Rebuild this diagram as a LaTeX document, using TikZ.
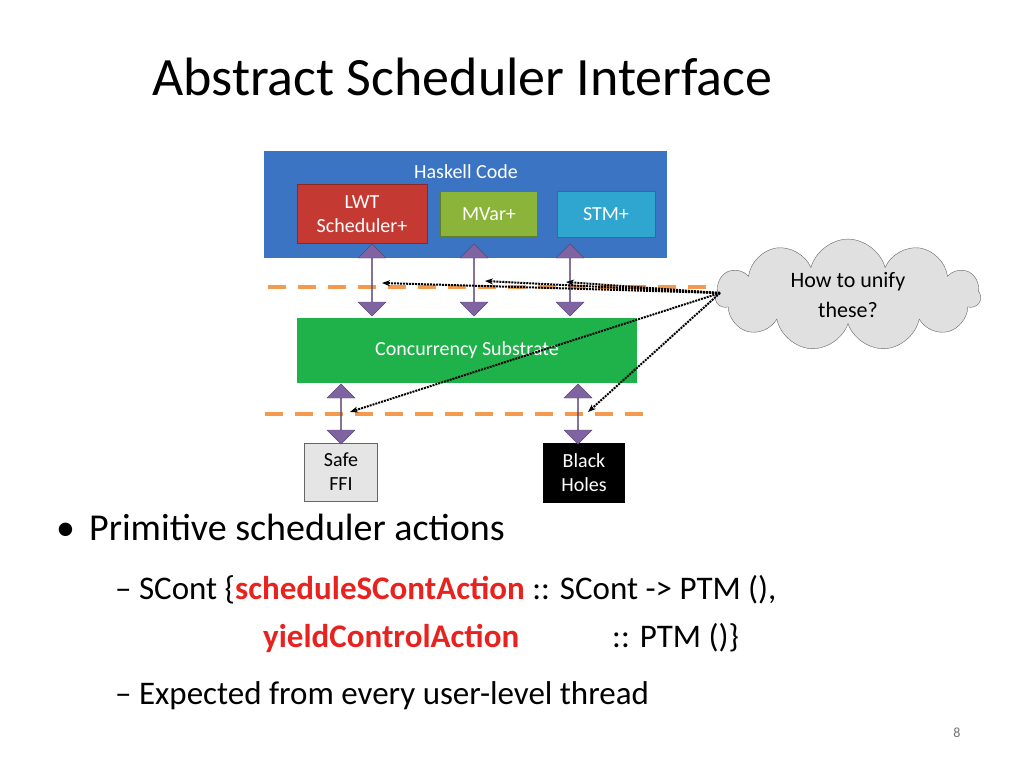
\documentclass[tikz,border=0pt]{standalone}
\usepackage{fontspec}
\setmainfont{Carlito}
\usetikzlibrary{shapes.symbols, shapes.arrows, arrows.meta}
\definecolor{hsblue}{HTML}{3C74C4}
\definecolor{lwtred}{HTML}{C43A33}
\definecolor{mvgreen}{HTML}{8AB43A}
\definecolor{stmcyan}{HTML}{2FA6D0}
\definecolor{subgreen}{HTML}{1FB14A}
\definecolor{dashorange}{HTML}{F39A4E}
\definecolor{arrpurple}{HTML}{8064A2}
\definecolor{keyred}{HTML}{E8231F}

\begin{document}
\begin{tikzpicture}[x=1pt, y=-1pt]
    % Define styles
    \tikzset{
      box/.style={rectangle, inner sep=0pt, text=white, font=\fontsize{20}{24}\selectfont, align=center},
      layer/.style={dashorange, line width=4pt, dash pattern=on 18pt off 12pt},
      dblarrow/.style={draw=arrpurple!70!black, fill=arrpurple, double arrow, double arrow head extend=8pt, minimum height=72pt, minimum width=28pt, inner sep=0pt, shape border rotate=90},
      hint/.style={densely dotted, line width=2pt, -{Stealth[length=8pt]}},
      bodytext/.style={anchor=base west, inner sep=0pt}
    }
    \useasboundingbox (0,0) rectangle (1024,768);

    % Title
    \node (title) [anchor=base west, inner sep=0pt, font=\fontsize{54}{60}\selectfont] at (152,95) {Abstract Scheduler Interface};

    % Boxes
    \node (haskell) [box, fill=hsblue, minimum width=403pt, minimum height=107pt, anchor=north west] at (264,151) {};
    \node (hslabel) [box] at (466,172) {Haskell Code};
    \node (lwt) [box, fill=lwtred, minimum width=130pt, minimum height=59pt, draw=lwtred!70!black] at (362,214) {LWT\\Scheduler+};
    \node (mvar) [box, fill=mvgreen, minimum width=97pt, minimum height=45pt, draw=mvgreen!70!black] at (489,214) {MVar+};
    \node (stm) [box, fill=stmcyan, minimum width=98pt, minimum height=46pt, draw=stmcyan!70!black] at (606,214) {STM+};
    \node (subst) [box, fill=subgreen, minimum width=340pt, minimum height=65pt] at (467,350) {Concurrency Substrate};
    \node (ffi) [box, fill=black!10, draw=black!60, text=black, minimum width=73pt, minimum height=58pt] at (341,472) {Safe\\FFI};
    \node (bh) [box, fill=black, minimum width=82pt, minimum height=60pt] at (584,473) {Black\\Holes};

    % Layer lines
    \coordinate (l1a) at (268,287); \coordinate (l1b) at (720,287);
    \coordinate (l2a) at (265,414); \coordinate (l2b) at (650,414);
    \draw [layer] (l1a) -- (l1b);
    \draw [layer] (l2a) -- (l2b);

    % Double arrows
    \node (a1) [dblarrow] at (372,280) {};
    \node (a2) [dblarrow] at (474,280) {};
    \node (a3) [dblarrow] at (570,280) {};
    \node (a4) [dblarrow, minimum height=60pt] at (341,414) {};
    \node (a5) [dblarrow, minimum height=60pt] at (578,414) {};

    % Cloud
    \node (cloud) [cloud, cloud puffs=11, aspect=2.6, draw=black!60, fill=black!12, minimum width=265pt, minimum height=100pt, align=center, font=\fontsize{22}{30}\selectfont] at (848,295) {How to unify\\these?};
    \coordinate (src) at (720,293);
    \coordinate (t1) at (382,283);
    \coordinate (t2) at (485,281);
    \coordinate (t3) at (566,282);
    \coordinate (t4) at (350,412);
    \coordinate (t5) at (588,412);
    \foreach \t in {t1,t2,t3,t4,t5}
      \draw [hint] (src) -- (\t);

    % Bullets
    \node (b1) [bodytext, font=\fontsize{38}{44}\selectfont] at (56,540) {\textbullet\hspace{14pt}Primitive scheduler actions};
    \node (b2) [bodytext, font=\fontsize{33}{40}\selectfont] at (115,599) {– SCont \{\textcolor{keyred}{\textbf{scheduleSContAction}} :: SCont -> PTM (),};
    \node (b3) [bodytext, font=\fontsize{33}{40}\selectfont] at (263,647) {\textcolor{keyred}{\textbf{yieldControlAction}}};
    \node (b4) [bodytext, font=\fontsize{33}{40}\selectfont] at (612,647) {:: PTM ()\}};
    \node (b5) [bodytext, font=\fontsize{33}{40}\selectfont] at (115,704) {– Expected from every user-level thread};
    \node (page) [text=black!55, font=\fontsize{14}{16}\selectfont] at (957,733) {8};
\end{tikzpicture}
\end{document}
